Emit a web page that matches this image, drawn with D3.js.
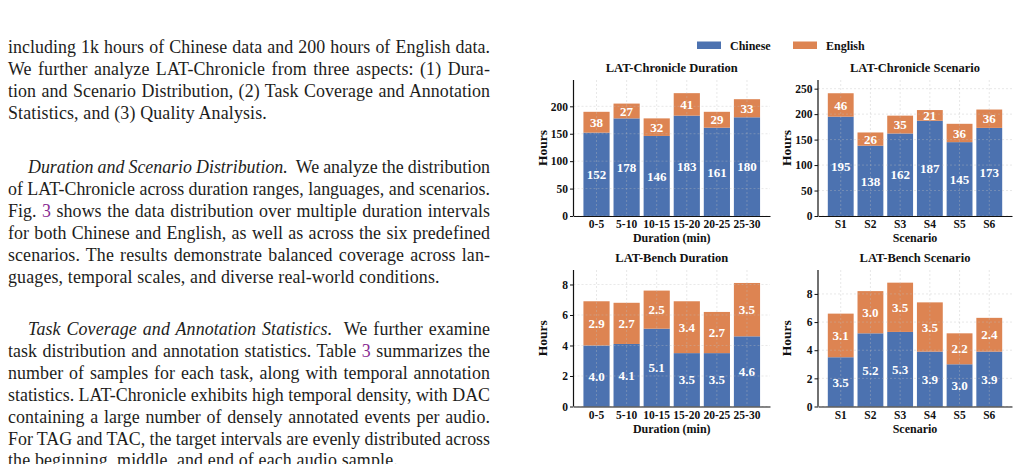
<!DOCTYPE html>
<html>
<head>
<meta charset="utf-8">
<script src="https://cdn.jsdelivr.net/npm/d3@7"></script>
<style>
  html, body { margin: 0; padding: 0; background: #fff; }
  svg text { font-family: "Liberation Serif", "Times New Roman", serif; }
</style>
</head>
<body>
<div id="page"></div>
<script>
// chart data
var durationCats = ["0-5", "5-10", "10-15", "15-20", "20-25", "25-30"]
var scenarioCats = ["S1", "S2", "S3", "S4", "S5", "S6"]
var series = ["Chinese", "English"]
var colors = ["#4C72B0", "#DD8452"]

var chronDurChinese = [152, 178, 146, 183, 161, 180]
var chronDurEnglish = [38, 27, 32, 41, 29, 33]
var chronScenChinese = [195, 138, 162, 187, 145, 173]
var chronScenEnglish = [46, 26, 35, 21, 36, 36]
var benchDurChinese = [4.0, 4.1, 5.1, 3.5, 3.5, 4.6]
var benchDurEnglish = [2.9, 2.7, 2.5, 3.4, 2.7, 3.5]
var benchScenChinese = [3.5, 5.2, 5.3, 3.9, 3.0, 3.9]
var benchScenEnglish = [3.1, 3.0, 3.5, 3.5, 2.2, 2.4]

var chronTicks = [0, 50, 100, 150, 200]
var chronScenTicks = [0, 50, 100, 150, 200, 250]
var benchTicks = [0, 2, 4, 6, 8]

var width = 1020
var height = 464

var svg = d3.select("#page")
    .append("svg")
    .attr("width", width)
    .attr("height", height)

// ---------- body text on the left ----------
var textColor = "#1d1d1b"
var linkColor = "#8a2c93"
var paragraphs = [
    { y: 53, lines: [
        [["including 1k hours of Chinese data and 200 hours of English data.", "n"]],
        [["We further analyze LAT-Chronicle from three aspects: (1) Dura-", "n"]],
        [["tion and Scenario Distribution, (2) Task Coverage and Annotation", "n"]],
        [["Statistics, and (3) Quality Analysis.", "n"]]
    ] },
    { y: 173, indent: true, lines: [
        [["Duration and Scenario Distribution.", "i"], ["  We analyze the distribution", "n"]],
        [["of LAT-Chronicle across duration ranges, languages, and scenarios.", "n"]],
        [["Fig. ", "n"], ["3", "l"], [" shows the data distribution over multiple duration intervals", "n"]],
        [["for both Chinese and English, as well as across the six predefined", "n"]],
        [["scenarios. The results demonstrate balanced coverage across lan-", "n"]],
        [["guages, temporal scales, and diverse real-world conditions.", "n"]]
    ] },
    { y: 335, indent: true, lines: [
        [["Task Coverage and Annotation Statistics.", "i"], ["  We further examine", "n"]],
        [["task distribution and annotation statistics. Table ", "n"], ["3", "l"], [" summarizes the", "n"]],
        [["number of samples for each task, along with temporal annotation", "n"]],
        [["statistics. LAT-Chronicle exhibits high temporal density, with DAC", "n"]],
        [["containing a large number of densely annotated events per audio.", "n"]],
        [["For TAG and TAC, the target intervals are evenly distributed across", "n"]],
        [["the beginning, middle, and end of each audio sample.", "n"]]
    ] }
]

var textLeft = 8
var textRight = 490
var lineGap = 21.9

paragraphs.forEach(function (p) {
    p.lines.forEach(function (segs, i) {
        var x0 = (i == 0 && p.indent) ? textLeft + 20 : textLeft
        var t = svg.append("text")
            .attr("x", x0)
            .attr("y", p.y + i * lineGap)
            .style("font-size", "17.9px")
            .style("fill", textColor)
            .attr("xml:space", "preserve")
        segs.forEach(function (s) {
            var ts = t.append("tspan").text(s[0])
            if (s[1] == "i") ts.style("font-style", "italic")
            if (s[1] == "l") ts.style("fill", linkColor)
        })
        var full = segs.map(function (s) { return s[0] }).join("")
        var natural = t.node().getComputedTextLength()
        if (i < p.lines.length - 1) {
            // justify: share the slack between letters and word gaps
            var extra = textRight - x0 - natural
            var spaces = (full.match(/ /g) || []).length
            var ls = extra * 0.35 / full.length
            t.style("letter-spacing", ls + "px")
            t.attr("word-spacing", extra * 0.65 / spaces)
        } else {
            t.style("letter-spacing", "0.15px")
        }
    })
})

// ---------- legend ----------
var legendItems = [{ x: 697, label: series[0], color: colors[0] }, { x: 793, label: series[1], color: colors[1] }]
legendItems.forEach(function (d) {
    svg.append("rect").attr("x", d.x).attr("y", 41.5).attr("width", 24).attr("height", 7.5).style("fill", d.color)
    svg.append("text").attr("x", d.x + 33).attr("y", 49.5).text(d.label)
        .style("font-size", "12px").style("font-weight", "bold").style("fill", "#111")
})

// ---------- the four stacked bar panels ----------
var panels = [
    { title: "LAT-Chronicle Duration", xlabel: "Duration (min)", cats: durationCats, a: chronDurChinese, b: chronDurEnglish,
      ticks: chronTicks, ymax: 248, fmt: d3.format("d"), left: 573.5, right: 770, top: 80, bottom: 216 },
    { title: "LAT-Chronicle Scenario", xlabel: "Scenario", cats: scenarioCats, a: chronScenChinese, b: chronScenEnglish,
      ticks: chronScenTicks, ymax: 267, fmt: d3.format("d"), left: 818, right: 1012, top: 80, bottom: 216 },
    { title: "LAT-Bench Duration", xlabel: "Duration (min)", cats: durationCats, a: benchDurChinese, b: benchDurEnglish,
      ticks: benchTicks, ymax: 8.95, fmt: d3.format(".1f"), left: 573.5, right: 770, top: 270, bottom: 406.5 },
    { title: "LAT-Bench Scenario", xlabel: "Scenario", cats: scenarioCats, a: benchScenChinese, b: benchScenEnglish,
      ticks: benchTicks, ymax: 9.7, fmt: d3.format(".1f"), left: 818, right: 1012, top: 270, bottom: 406.5 }
]

panels.forEach(function (p) {
    var g = svg.append("g")

    var x = d3.scaleBand()
        .domain(p.cats)
        .range([p.left, p.right])
        .paddingInner(0.13)
        .paddingOuter(0.33)

    var y = d3.scaleLinear()
        .domain([0, p.ymax])
        .range([p.bottom, p.top])

    var rows = p.cats.map(function (c, i) { return { cat: c, Chinese: p.a[i], English: p.b[i] } })
    var stacked = d3.stack().keys(series)(rows)

    // bars
    g.selectAll("g.layer")
        .data(stacked)
        .enter()
        .append("g")
        .style("fill", function (d, i) { return colors[i] })
        .selectAll("rect")
        .data(function (d) { return d })
        .enter()
        .append("rect")
        .attr("x", function (d) { return x(d.data.cat) })
        .attr("width", x.bandwidth())
        .attr("y", function (d) { return y(d[1]) })
        .attr("height", function (d) { return y(d[0]) - y(d[1]) })

    // dashed grid, drawn over the bars with low alpha like matplotlib
    var grid = g.append("g").style("stroke", "rgba(190,190,190,0.45)").style("stroke-width", 0.8).style("stroke-dasharray", "2,2")
    p.ticks.forEach(function (t) {
        grid.append("line").attr("x1", p.left).attr("x2", p.right).attr("y1", y(t)).attr("y2", y(t))
    })
    p.cats.forEach(function (c) {
        var cx = x(c) + x.bandwidth() / 2
        grid.append("line").attr("x1", cx).attr("x2", cx).attr("y1", p.top).attr("y2", p.bottom)
    })

    // value labels
    stacked.forEach(function (layer) {
        g.selectAll(null)
            .data(layer)
            .enter()
            .append("text")
            .attr("x", function (d) { return x(d.data.cat) + x.bandwidth() / 2 })
            .attr("y", function (d) { return (y(d[0]) + y(d[1])) / 2 })
            .attr("dy", "0.36em")
            .attr("text-anchor", "middle")
            .text(function (d) { return p.fmt(d[1] - d[0]) })
            .style("fill", "#fff")
            .style("font-size", "13px")
            .style("font-weight", "bold")
    })

    // axes
    var yAxis = g.append("g")
        .attr("transform", "translate(" + p.left + ",0)")
        .call(d3.axisLeft(y).tickValues(p.ticks).tickFormat(d3.format("d")).tickSize(3.5).tickPadding(2))
    var xAxis = g.append("g")
        .attr("transform", "translate(0," + p.bottom + ")")
        .call(d3.axisBottom(x).tickSize(0).tickPadding(4))

    yAxis.select(".domain").attr("d", "M0," + p.top + "V" + p.bottom)
    ;[yAxis, xAxis].forEach(function (ax) {
        ax.select(".domain").style("stroke", "#111").style("stroke-width", 1.2)
        ax.selectAll(".tick line").style("stroke", "#111").style("stroke-width", 1)
        ax.selectAll("text")
            .style("font-family", "'Liberation Serif', serif")
            .style("font-size", "11.5px")
            .style("font-weight", "bold")
            .style("fill", "#111")
    })

    // titles and axis labels
    var mid = (p.left + p.right) / 2
    g.append("text").attr("x", mid).attr("y", p.top - 8).attr("text-anchor", "middle").text(p.title)
        .style("font-size", "12.5px").style("font-weight", "bold").style("fill", "#111")
    g.append("text").attr("x", mid).attr("y", p.bottom + 26).attr("text-anchor", "middle").text(p.xlabel)
        .style("font-size", "12px").style("font-weight", "bold").style("fill", "#111")
    g.append("text")
        .attr("transform", "translate(" + (p.left - 27) + "," + ((p.top + p.bottom) / 2) + ") rotate(-90)")
        .attr("text-anchor", "middle").text("Hours")
        .style("font-size", "13.5px").style("font-weight", "bold").style("fill", "#111")
})
</script>
</body>
</html>
